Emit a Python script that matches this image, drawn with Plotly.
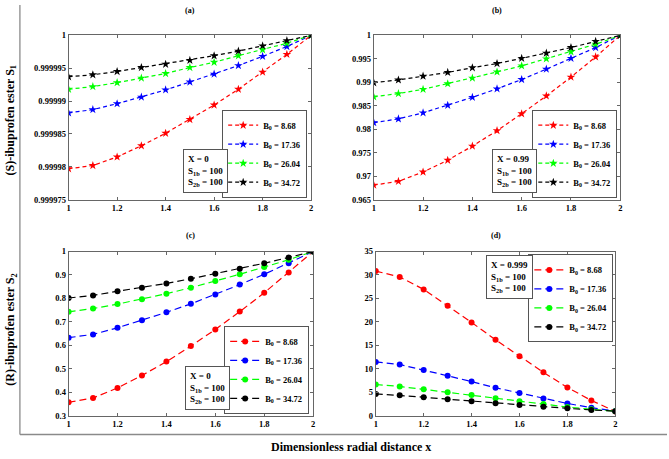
import plotly.graph_objects as go

x_vals = [1.0, 1.1, 1.2, 1.3, 1.4, 1.5, 1.6, 1.7, 1.8, 1.9, 2.0]
b0_labels = ["8.68", "17.36", "26.04", "34.72"]
colors = ["#ff0000", "#0000ff", "#00ff00", "#000000"]

# (a) S1, X = 0
a_red = [0.9999797, 0.9999802, 0.9999815, 0.9999832, 0.9999851, 0.9999872, 0.9999894, 0.9999918, 0.9999944, 0.9999971, 1.0]
a_blue = [0.9999882, 0.9999887, 0.9999896, 0.9999906, 0.9999917, 0.9999929, 0.9999941, 0.9999954, 0.9999968, 0.9999983, 1.0]
a_green = [0.9999918, 0.9999922, 0.9999928, 0.9999935, 0.9999942, 0.9999951, 0.9999959, 0.9999969, 0.9999978, 0.9999988, 1.0]
a_black = [0.9999937, 0.9999940, 0.9999945, 0.9999951, 0.9999956, 0.9999962, 0.9999969, 0.9999976, 0.9999984, 0.9999992, 1.0]

# (b) S1, X = 0.99
b_red = [0.9681, 0.9689, 0.9709, 0.9734, 0.9764, 0.9797, 0.9833, 0.9871, 0.9911, 0.9954, 1.0]
b_blue = [0.9814, 0.9822, 0.9835, 0.9851, 0.9868, 0.9886, 0.9906, 0.9928, 0.9951, 0.9974, 1.0]
b_green = [0.9869, 0.9876, 0.9885, 0.9897, 0.9909, 0.9922, 0.9935, 0.9950, 0.9965, 0.9981, 1.0]
b_black = [0.9899, 0.9905, 0.9913, 0.9921, 0.9931, 0.9940, 0.9951, 0.9962, 0.9974, 0.9987, 1.0]

# (c) S2, X = 0
c_red = [0.358, 0.376, 0.419, 0.472, 0.531, 0.597, 0.668, 0.744, 0.824, 0.911, 1.0]
c_blue = [0.633, 0.647, 0.675, 0.707, 0.741, 0.777, 0.817, 0.859, 0.903, 0.950, 1.0]
c_green = [0.743, 0.757, 0.776, 0.797, 0.820, 0.846, 0.874, 0.903, 0.934, 0.965, 1.0]
c_black = [0.802, 0.813, 0.831, 0.846, 0.864, 0.884, 0.905, 0.927, 0.950, 0.975, 1.0]

# (d) S2, X = 0.999
d_red = [30.83, 29.58, 26.93, 23.45, 19.90, 16.20, 12.67, 9.26, 6.05, 3.27, 0.95]
d_blue = [11.48, 10.93, 9.74, 8.56, 7.31, 5.98, 4.87, 3.69, 2.64, 1.74, 1.0]
d_green = [6.68, 6.26, 5.64, 5.01, 4.45, 3.76, 3.13, 2.50, 1.88, 1.39, 1.0]
d_black = [4.66, 4.38, 3.97, 3.55, 3.13, 2.71, 2.30, 1.95, 1.60, 1.25, 1.0]

a_ticks = [0.999975, 0.99998, 0.999985, 0.99999, 0.999995, 1.0]
a_ticktext = ["0.999975", "0.99998", "0.999985", "0.99999", "0.999995", "1"]
b_ticks = [0.965, 0.97, 0.975, 0.98, 0.985, 0.99, 0.995, 1.0]
b_ticktext = ["0.965", "0.97", "0.975", "0.98", "0.985", "0.99", "0.995", "1"]
c_ticks = [0.3, 0.4, 0.5, 0.6, 0.7, 0.8, 0.9, 1.0]
c_ticktext = ["0.3", "0.4", "0.5", "0.6", "0.7", "0.8", "0.9", "1"]
d_ticks = [0, 5, 10, 15, 20, 25, 30, 35]
x_ticks = [1, 1.2, 1.4, 1.6, 1.8, 2]
x_ticktext = ["1", "1.2", "1.4", "1.6", "1.8", "2"]

panel_titles = ["(a)", "(b)", "(c)", "(d)"]
param_texts = [
    "X = 0<br>S<sub>1b</sub> = 100<br>S<sub>2b</sub> = 100",
    "X = 0.99<br>S<sub>1b</sub> = 100<br>S<sub>2b</sub> = 100",
    "X = 0<br>S<sub>1b</sub> = 100<br>S<sub>2b</sub> = 100",
    "X = 0.999<br>S<sub>1b</sub> = 100<br>S<sub>2b</sub> = 100",
]
ytitle_top = "(S)-ibuprofen ester S<sub>1</sub>"
ytitle_bottom = "(R)-ibuprofen ester S<sub>2</sub>"
xtitle = "Dimensionless radial distance x"

W, H = 669, 459
FONT = "Liberation Serif"

def px_x(p):
    return p / W

def px_y(p):
    return 1 - p / H

# plot area pixel boxes: left, right, top, bottom
boxes = [
    (67, 311, 31, 199),
    (374, 622, 31, 199),
    (67, 313, 252, 420),
    (376, 617, 252, 420),
]
series = [
    [a_red, a_blue, a_green, a_black],
    [b_red, b_blue, b_green, b_black],
    [c_red, c_blue, c_green, c_black],
    [d_red, d_blue, d_green, d_black],
]
yranges = [[0.999975, 1.0], [0.965, 1.0], [0.3, 1.0], [0, 35]]
yticks = [(a_ticks, a_ticktext), (b_ticks, b_ticktext), (c_ticks, c_ticktext), (d_ticks, [str(v) for v in d_ticks])]
dashes = ["4px,3px", "4px,3px", "7px,4px", "7px,4px"]
symbols = ["star", "star", "circle", "circle"]
msizes = [6.5, 6.5, 6, 6]
# legend placement: (right px, y px, yanchor)
legend_pos = [(307, 197, "bottom"), (619, 197, "bottom"), (309, 418, "bottom"), (615, 255, "top")]
# param box: (right px, y px, yanchor)
param_pos = [(227, 192, "bottom"), (538, 192, "bottom"), (229, 414, "bottom"), (534, 256, "top")]

fig = go.Figure()
layout = dict(
    width=W, height=H, margin=dict(l=0, r=0, t=0, b=0),
    paper_bgcolor="white", plot_bgcolor="white",
    font=dict(family=FONT, size=8, color="black", weight="bold"),
    showlegend=True,
)
annotations = []
for i in range(4):
    ax = "" if i == 0 else str(i + 1)
    xa = "x" + ax
    ya = "y" + ax
    leg = "legend" if i == 0 else "legend" + str(i + 1)
    for j in range(4):
        fig.add_trace(go.Scatter(
            x=x_vals, y=series[i][j], xaxis=xa, yaxis=ya, legend=leg,
            mode="lines+markers",
            name="B<sub>0</sub> = " + b0_labels[j],
            line=dict(color=colors[j], width=1.2, dash=dashes[i]),
            marker=dict(color=colors[j], symbol=symbols[i], size=msizes[i], line=dict(width=0)),
        ))
    l, r, t, b = boxes[i]
    axis_common = dict(
        showgrid=False, zeroline=False, showline=True, linecolor="#666", linewidth=1,
        mirror="ticks", ticks="inside", ticklen=3, tickcolor="#666",
        tickfont=dict(family=FONT, size=8.5, color="black", weight="bold"),
    )
    layout["xaxis" + ax] = dict(
        domain=[px_x(l), px_x(r)], anchor=ya, range=[1, 2],
        tickvals=x_ticks, ticktext=x_ticktext, **axis_common)
    layout["yaxis" + ax] = dict(
        domain=[px_y(b), px_y(t)], anchor=xa, range=yranges[i],
        tickvals=yticks[i][0], ticktext=yticks[i][1], **axis_common)
    lx, ly, lya = legend_pos[i]
    layout[leg] = dict(
        x=px_x(lx), y=px_y(ly), xanchor="right", yanchor=lya,
        bgcolor="white", bordercolor="#555", borderwidth=1,
        font=dict(family=FONT, size=8.5, color="black", weight="bold"),
        itemwidth=30, tracegroupgap=0,
    )
    annotations.append(dict(
        text=panel_titles[i], xref="paper", yref="paper",
        x=px_x((l + r) / 2), y=px_y(6 if i < 2 else 236),
        xanchor="center", yanchor="middle", showarrow=False,
        font=dict(family=FONT, size=8, color="black", weight="bold"),
    ))
    qx, qy, qya = param_pos[i]
    annotations.append(dict(
        text=param_texts[i], xref="paper", yref="paper",
        x=px_x(qx), y=px_y(qy), xanchor="right", yanchor=qya,
        align="left", showarrow=False, bgcolor="white",
        bordercolor="#555", borderwidth=1, borderpad=4,
        font=dict(family=FONT, size=9, color="black", weight="bold"),
    ))

annotations.append(dict(
    text=ytitle_top, xref="paper", yref="paper", x=px_x(9), y=px_y(118),
    textangle=-90, showarrow=False, xanchor="center", yanchor="middle",
    font=dict(family=FONT, size=12, color="black", weight="bold"),
))
annotations.append(dict(
    text=ytitle_bottom, xref="paper", yref="paper", x=px_x(9), y=px_y(332),
    textangle=-90, showarrow=False, xanchor="center", yanchor="middle",
    font=dict(family=FONT, size=12, color="black", weight="bold"),
))
annotations.append(dict(
    text=xtitle, xref="paper", yref="paper", x=px_x(351), y=px_y(452),
    showarrow=False, xanchor="center", yanchor="middle",
    font=dict(family=FONT, size=12, color="black", weight="bold"),
))
layout["annotations"] = annotations
layout["shapes"] = [
    dict(type="line", xref="paper", yref="paper", x0=px_x(18), x1=px_x(18), y0=1, y1=px_y(439),
         line=dict(color="#9a9a9a", width=1.5)),
    dict(type="line", xref="paper", yref="paper", x0=px_x(18), x1=1, y0=px_y(439), y1=px_y(439),
         line=dict(color="#8a8a8a", width=1.5)),
]
fig.update_layout(**layout)
fig.write_html("out.html")
